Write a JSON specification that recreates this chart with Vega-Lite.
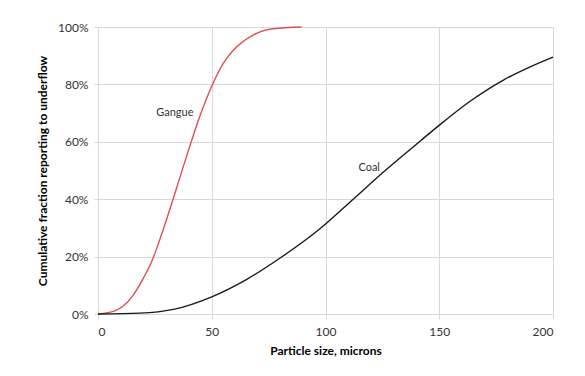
{
  "$schema": "https://vega.github.io/schema/vega-lite/v6.json",
  "width": 455,
  "height": 287,
  "autosize": {"type": "none"},
  "padding": {"left": 98, "top": 27, "right": 32, "bottom": 62},
  "background": "white",
  "config": {
    "view": {"stroke": null},
    "font": "Lato",
    "axis": {
      "labelFont": "Lato",
      "titleFont": "Lato",
      "labelFontSize": 12,
      "titleFontSize": 12,
      "labelColor": "#333333",
      "titleColor": "#000000",
      "titleFontWeight": "bold",
      "gridColor": "#d9d9d9",
      "domainColor": "#d9d9d9",
      "tickColor": "#d9d9d9"
    }
  },
  "datasets": {
    "curves": [
      {"size": 0, "frac": 0, "series": "Gangue"},
      {"size": 7.4, "frac": 0.011, "series": "Gangue"},
      {"size": 11.1, "frac": 0.028, "series": "Gangue"},
      {"size": 15.5, "frac": 0.066, "series": "Gangue"},
      {"size": 19.9, "frac": 0.124, "series": "Gangue"},
      {"size": 24.3, "frac": 0.196, "series": "Gangue"},
      {"size": 28, "frac": 0.279, "series": "Gangue"},
      {"size": 32.4, "frac": 0.385, "series": "Gangue"},
      {"size": 36, "frac": 0.476, "series": "Gangue"},
      {"size": 40.4, "frac": 0.586, "series": "Gangue"},
      {"size": 44.8, "frac": 0.69, "series": "Gangue"},
      {"size": 49.9, "frac": 0.792, "series": "Gangue"},
      {"size": 55, "frac": 0.872, "series": "Gangue"},
      {"size": 60.9, "frac": 0.93, "series": "Gangue"},
      {"size": 68.2, "frac": 0.972, "series": "Gangue"},
      {"size": 77, "frac": 0.994, "series": "Gangue"},
      {"size": 89.5, "frac": 1.0, "series": "Gangue"},
      {"size": 0, "frac": 0, "series": "Coal"},
      {"size": 18.5, "frac": 0.003, "series": "Coal"},
      {"size": 33.1, "frac": 0.016, "series": "Coal"},
      {"size": 50, "frac": 0.06, "series": "Coal"},
      {"size": 65.4, "frac": 0.121, "series": "Coal"},
      {"size": 81.5, "frac": 0.203, "series": "Coal"},
      {"size": 97.7, "frac": 0.298, "series": "Coal"},
      {"size": 112.3, "frac": 0.401, "series": "Coal"},
      {"size": 127, "frac": 0.505, "series": "Coal"},
      {"size": 141.7, "frac": 0.603, "series": "Coal"},
      {"size": 150.2, "frac": 0.659, "series": "Coal"},
      {"size": 163.7, "frac": 0.742, "series": "Coal"},
      {"size": 178.4, "frac": 0.816, "series": "Coal"},
      {"size": 190, "frac": 0.861, "series": "Coal"},
      {"size": 200, "frac": 0.895, "series": "Coal"}
    ],
    "labels": [
      {"size": 33.8, "frac": 0.699, "text": "Gangue"},
      {"size": 119.2, "frac": 0.507, "text": "Coal"}
    ]
  },
  "layer": [
    {
      "data": {"name": "curves"},
      "mark": {"type": "line", "interpolate": "monotone", "strokeWidth": 1.4},
      "encoding": {
        "x": {
          "field": "size", "type": "quantitative",
          "scale": {"domain": [0, 200], "nice": false},
          "axis": {"values": [0, 50, 100, 150, 200], "title": "Particle size, microns", "tickSize": 5, "labelPadding": 7, "titlePadding": 8}
        },
        "y": {
          "field": "frac", "type": "quantitative",
          "scale": {"domain": [0, 1], "nice": false},
          "axis": {"values": [0, 0.2, 0.4, 0.6, 0.8, 1], "format": ".0%", "title": "Cumulative fraction reporting to underflow", "tickSize": 4, "labelPadding": 6, "titlePadding": 8, "domain": false}
        },
        "color": {
          "field": "series", "type": "nominal",
          "scale": {"domain": ["Gangue", "Coal"], "range": ["#d9534f", "#1a1a1a"]},
          "legend": null
        }
      }
    },
    {
      "data": {"name": "labels"},
      "mark": {"type": "text", "font": "Lato", "fontSize": 11, "color": "#333333"},
      "encoding": {
        "x": {"field": "size", "type": "quantitative"},
        "y": {"field": "frac", "type": "quantitative"},
        "text": {"field": "text"}
      }
    }
  ]
}
